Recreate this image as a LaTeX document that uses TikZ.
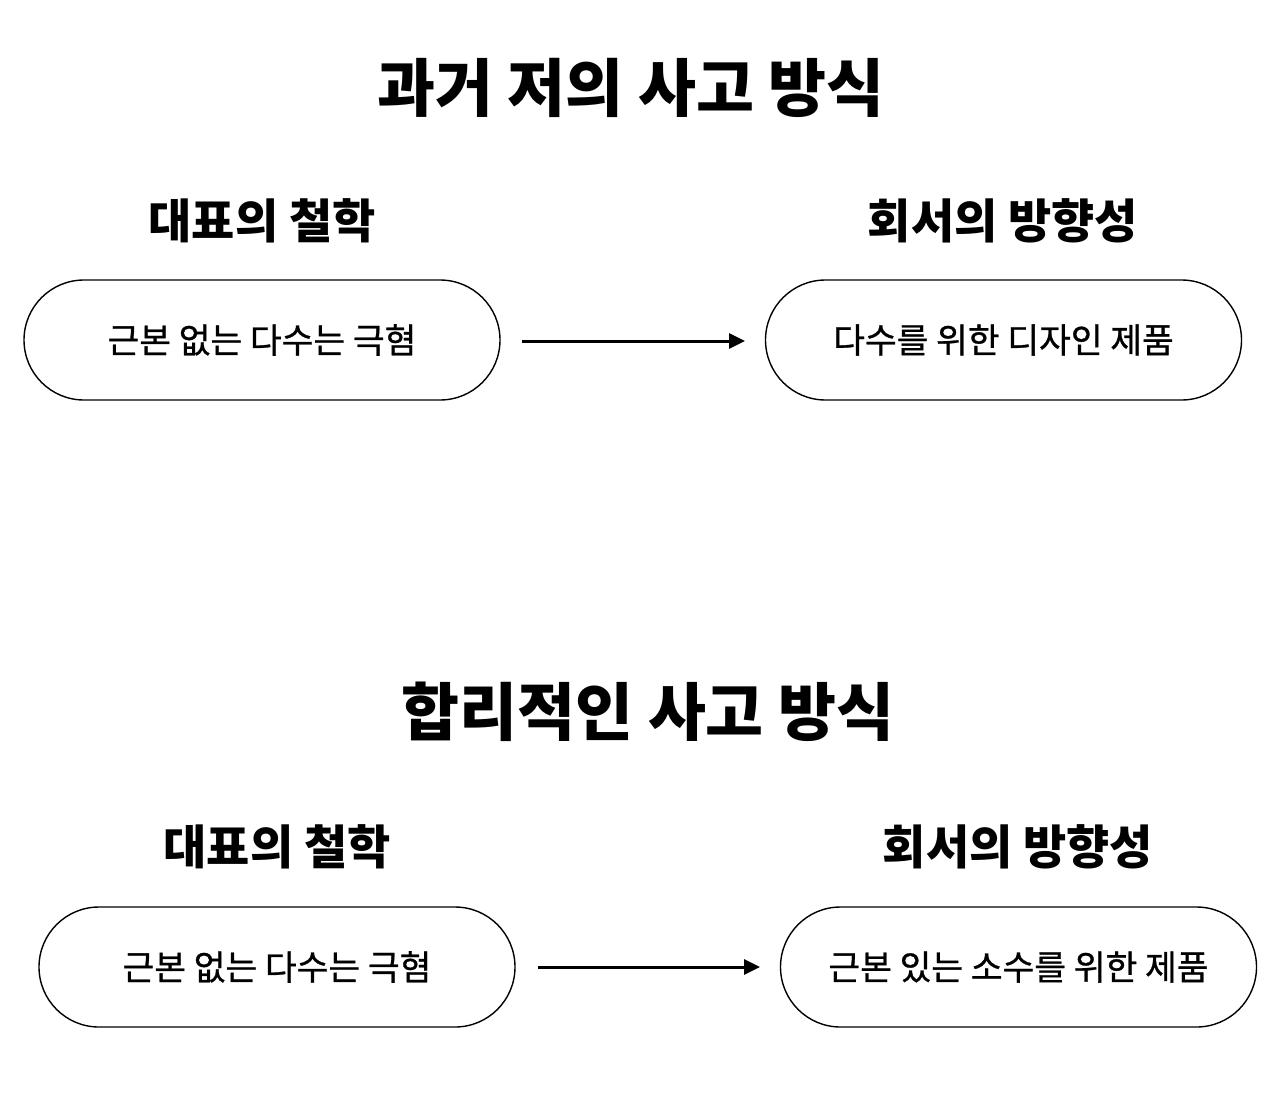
\documentclass[tikz,border=0pt]{standalone}
\usepackage{fontspec}
\setmainfont{Noto Sans CJK KR}
\newfontfamily\pillfont[FakeBold=0.8]{Noto Sans CJK KR}
\usetikzlibrary{arrows.meta}
\tikzset{
  pill/.style={draw=black, line width=1.4pt, rounded corners=60pt, minimum width=476pt, minimum height=120pt, inner sep=0pt, font=\pillfont\fontsize{34.5}{40}\selectfont},
  title/.style={font=\fontsize{63}{70}\selectfont\bfseries, inner sep=0pt},
  heading/.style={font=\fontsize{47}{54}\selectfont\bfseries, inner sep=0pt},
  link/.style={line width=3pt, -{Triangle[length=16pt,width=15pt]}}
}
\begin{document}
\begin{tikzpicture}[x=1pt,y=-1pt]
\useasboundingbox[fill=white] (0,0) rectangle (1280,1098);
\node[title] (t1) at (631,88) {과거 저의 사고 방식};
\node[heading] (h1) at (262,221) {대표의 철학};
\node[heading] (h2) at (1003,221) {회서의 방향성};
\node[pill] (b1) at (262,340) {근본 없는 다수는 극혐};
\node[pill] (b2) at (1003.5,340) {다수를 위한 디자인 제품};
\coordinate (a1s) at (522,341);
\coordinate (a1e) at (745,341);
\draw[link] (a1s) -- (a1e);

\node[title] (t2) at (648,712) {합리적인 사고 방식};
\node[heading] (h3) at (277,847) {대표의 철학};
\node[heading] (h4) at (1018,847) {회서의 방향성};
\node[pill] (b3) at (277,967) {근본 없는 다수는 극혐};
\node[pill] (b4) at (1018.5,967) {근본 있는 소수를 위한 제품};
\coordinate (a2s) at (538,967);
\coordinate (a2e) at (760,967);
\draw[link] (a2s) -- (a2e);
\end{tikzpicture}
\end{document}
